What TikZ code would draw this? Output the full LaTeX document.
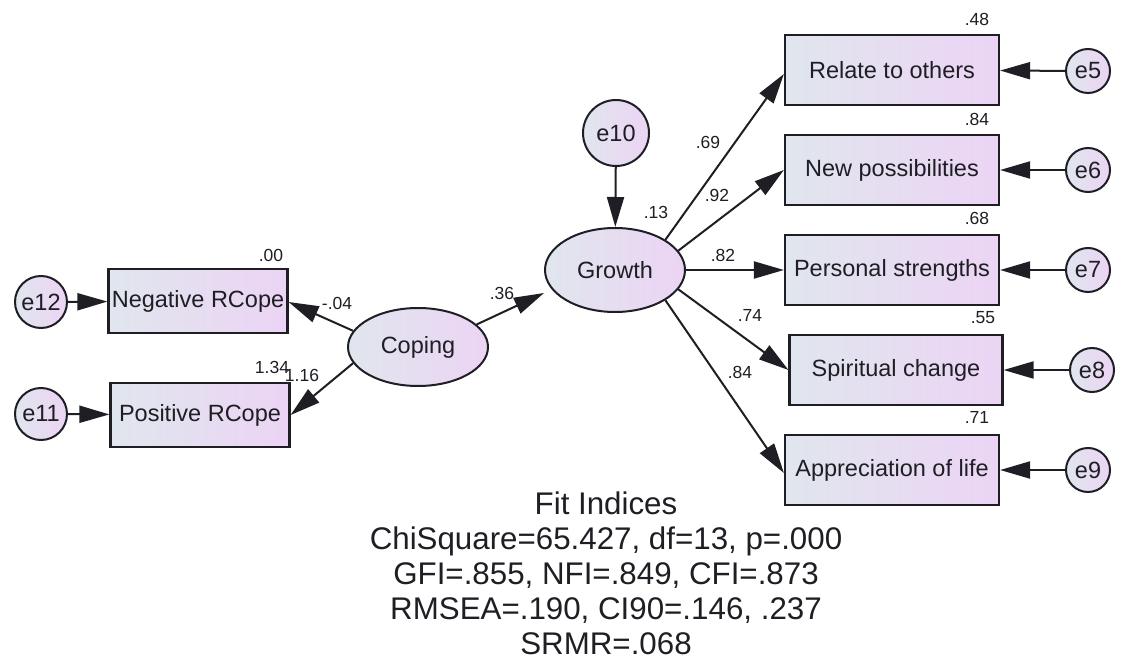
\documentclass[tikz,border=0pt]{standalone}
\usepackage{fontspec}
\setmainfont{Liberation Sans}
\usetikzlibrary{arrows.meta,shapes.geometric}

\definecolor{fillL}{HTML}{E0E6EE}
\definecolor{fillR}{HTML}{ECD4F4}
\definecolor{ink}{HTML}{1E1E24}

\tikzset{
  obsbox/.style={draw=ink, line width=2.2pt, rectangle, inner sep=0pt,
    minimum width=#1, minimum height=70pt, left color=fillL, right color=fillR,
    text=ink, font=\fontsize{23.5}{28}\selectfont},
  obsbox/.default=214pt,
  latent/.style={draw=ink, line width=2pt, ellipse, inner sep=0pt,
    left color=fillL, right color=fillR, text=ink,
    font=\fontsize{23.5}{28}\selectfont},
  errc/.style={draw=ink, line width=2pt, circle, inner sep=0pt,
    minimum size=#1, left color=fillL, right color=fillR, text=ink,
    font=\fontsize{23.5}{28}\selectfont},
  coef/.style={text=ink, inner sep=0pt, font=\fontsize{17.5}{20}\selectfont},
  path/.style={draw=ink, line width=2pt,
    -{Triangle[length=30pt,width=17pt]}},
}

\begin{document}
\begin{tikzpicture}[x=1pt,y=-1pt]
\useasboundingbox (0,0) rectangle (1123,660);

% latent variables
\node[latent, minimum width=140pt, minimum height=84pt] (growth) at (615,270) {Growth};
\node[latent, minimum width=140pt, minimum height=78pt] (coping) at (418,347) {Coping};
\node[errc=66pt] (e10) at (616,133) {e10};

% indicators of Coping
\node[obsbox=179pt, minimum height=64pt] (neg) at (198,301) {Negative RCope};
\node[obsbox=179pt, minimum height=64pt] (pos) at (200,415) {Positive RCope};
\node[errc=52pt] (e12) at (41,302) {e12};
\node[errc=52pt] (e11) at (41,414) {e11};

% indicators of Growth
\node[obsbox] (relate) at (892,70)  {Relate to others};
\node[obsbox] (newp)   at (892,170) {New possibilities};
\node[obsbox] (pers)   at (892,270) {Personal strengths};
\node[obsbox=213pt] (spir) at (896,370) {Spiritual change};
\node[obsbox] (appr)   at (892,470) {Appreciation of life};
\node[errc=44pt] (e5) at (1088,71)  {e5};
\node[errc=44pt] (e6) at (1088,170) {e6};
\node[errc=44pt] (e7) at (1088,270) {e7};
\node[errc=44pt] (e8) at (1092,370) {e8};
\node[errc=44pt] (e9) at (1088,470) {e9};

% structural paths
\draw[path] (coping.21) -- (growth.west |- 0,293);
\draw[path] (e10) -- (growth);
\draw[path] (coping.166) -- ([yshift=-1pt]neg.east);
\draw[path] (coping.194) -- (pos.east);
\draw[path] (e12) -- (neg);
\draw[path] (e11) -- (pos);

% loadings on Growth
\draw[path] (growth.31)  -- ([yshift=-4pt]relate.west);
\draw[path] (growth.17)  -- (newp.west);
\draw[path] (growth.0)   -- (pers.west);
\draw[path] (growth.-17) -- (spir.west);
\draw[path] (growth.-31) -- ([yshift=-3pt]appr.west);

% error terms of the indicators
\draw[path] (e5) -- (relate);
\draw[path] (e6) -- (newp);
\draw[path] (e7) -- (pers);
\draw[path] (e8) -- (spir);
\draw[path] (e9) -- (appr);

% estimates
\node[coef] (r2neg)    at (271,255) {.00};
\node[coef] (lneg)     at (337,303) {-.04};
\node[coef] (r2pos)    at (272,367) {1.34};
\node[coef] (lpos)     at (302,375) {1.16};
\node[coef] (bgrowth)  at (502,293) {.36};
\node[coef] (r2growth) at (656,212) {.13};
\node[coef] (lrel)     at (708,142) {.69};
\node[coef] (lnew)     at (717,195) {.92};
\node[coef] (lpers)    at (723,255) {.82};
\node[coef] (lspir)    at (750,315) {.74};
\node[coef] (lappr)    at (740,372) {.84};
\node[coef] (r2rel)    at (977,19)  {.48};
\node[coef] (r2new)    at (977,119) {.84};
\node[coef] (r2pers)   at (977,218) {.68};
\node[coef] (r2spir)   at (983,318) {.55};
\node[coef] (r2appr)   at (977,417) {.71};

% fit summary
\node[text=ink, align=center, inner sep=0pt, font=\fontsize{31.3}{35}\selectfont]
  (fit) at (606,573) {Fit Indices\\ChiSquare=65.427, df=13, p=.000\\GFI=.855, NFI=.849, CFI=.873\\RMSEA=.190, CI90=.146, .237\\SRMR=.068};
\end{tikzpicture}
\end{document}
